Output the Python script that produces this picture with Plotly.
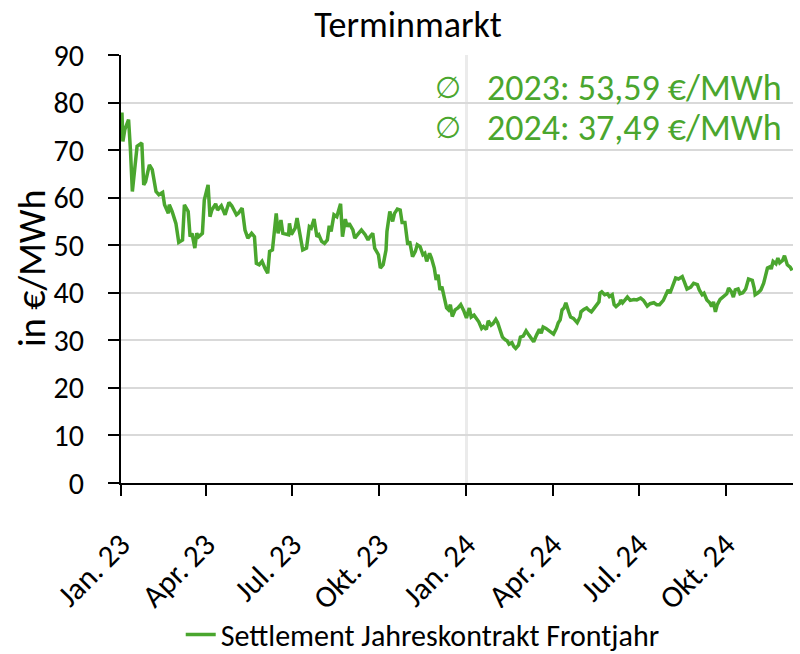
import plotly.graph_objects as go

# Settlement Jahreskontrakt Frontjahr (€/MWh)
dates = [
    "2023-01-02", "2023-01-03", "2023-01-05", "2023-01-09", "2023-01-11", "2023-01-13",
    "2023-01-18", "2023-01-23", "2023-01-25", "2023-01-27", "2023-01-31", "2023-02-03",
    "2023-02-07", "2023-02-10", "2023-02-14", "2023-02-16", "2023-02-20", "2023-02-21",
    "2023-02-24", "2023-02-28", "2023-03-03", "2023-03-07", "2023-03-09", "2023-03-13",
    "2023-03-15", "2023-03-17", "2023-03-20", "2023-03-22", "2023-03-24", "2023-03-28",
    "2023-03-30", "2023-04-03", "2023-04-05", "2023-04-07", "2023-04-11", "2023-04-13",
    "2023-04-17", "2023-04-21", "2023-04-25", "2023-04-28", "2023-05-03", "2023-05-05",
    "2023-05-09", "2023-05-12", "2023-05-15", "2023-05-19", "2023-05-22", "2023-05-24",
    "2023-05-27", "2023-05-30", "2023-06-02", "2023-06-05", "2023-06-07", "2023-06-10",
    "2023-06-14", "2023-06-16", "2023-06-19", "2023-06-21", "2023-06-27", "2023-06-28",
    "2023-06-30", "2023-07-04", "2023-07-06", "2023-07-09", "2023-07-12", "2023-07-16",
    "2023-07-19", "2023-07-21", "2023-07-24", "2023-07-27", "2023-07-29", "2023-08-01",
    "2023-08-04", "2023-08-07", "2023-08-09", "2023-08-11", "2023-08-14", "2023-08-17",
    "2023-08-21", "2023-08-23", "2023-08-26", "2023-08-28", "2023-08-30", "2023-09-03",
    "2023-09-05", "2023-09-09", "2023-09-12", "2023-09-16", "2023-09-19", "2023-09-21",
    "2023-09-24", "2023-09-26", "2023-09-30", "2023-10-02", "2023-10-05", "2023-10-08",
    "2023-10-09", "2023-10-12", "2023-10-15", "2023-10-17", "2023-10-20", "2023-10-23",
    "2023-10-25", "2023-10-28", "2023-10-31", "2023-11-02", "2023-11-05", "2023-11-08",
    "2023-11-10", "2023-11-13", "2023-11-16", "2023-11-18", "2023-11-20", "2023-11-23",
    "2023-11-25", "2023-11-28", "2023-11-30", "2023-12-02", "2023-12-04", "2023-12-06",
    "2023-12-08", "2023-12-11", "2023-12-13", "2023-12-15", "2023-12-17", "2023-12-20",
    "2023-12-23", "2023-12-26", "2023-12-29", "2024-01-01", "2024-01-04", "2024-01-06",
    "2024-01-09", "2024-01-12", "2024-01-14", "2024-01-17", "2024-01-19", "2024-01-22",
    "2024-01-24", "2024-01-27", "2024-01-29", "2024-02-01", "2024-02-03", "2024-02-05",
    "2024-02-08", "2024-02-11", "2024-02-13", "2024-02-15", "2024-02-18", "2024-02-20",
    "2024-02-22", "2024-02-25", "2024-02-27", "2024-03-01", "2024-03-04", "2024-03-07",
    "2024-03-10", "2024-03-12", "2024-03-15", "2024-03-18", "2024-03-20", "2024-03-22",
    "2024-03-25", "2024-03-27", "2024-03-30", "2024-04-02", "2024-04-05", "2024-04-07",
    "2024-04-09", "2024-04-11", "2024-04-13", "2024-04-15", "2024-04-18", "2024-04-20",
    "2024-04-23", "2024-04-25", "2024-04-27", "2024-04-30", "2024-05-01", "2024-05-04",
    "2024-05-07", "2024-05-09", "2024-05-12", "2024-05-14", "2024-05-17", "2024-05-20",
    "2024-05-21", "2024-05-23", "2024-05-26", "2024-05-29", "2024-05-31", "2024-06-03",
    "2024-06-05", "2024-06-07", "2024-06-11", "2024-06-12", "2024-06-14", "2024-06-17",
    "2024-06-19", "2024-06-22", "2024-06-26", "2024-06-29", "2024-07-03", "2024-07-06",
    "2024-07-10", "2024-07-13", "2024-07-17", "2024-07-20", "2024-07-23", "2024-07-27",
    "2024-07-29", "2024-08-01", "2024-08-03", "2024-08-06", "2024-08-09", "2024-08-12",
    "2024-08-16", "2024-08-18", "2024-08-21", "2024-08-25", "2024-08-28", "2024-09-01",
    "2024-09-03", "2024-09-06", "2024-09-08", "2024-09-11", "2024-09-14", "2024-09-16",
    "2024-09-18", "2024-09-20", "2024-09-22", "2024-09-25", "2024-09-29", "2024-10-02",
    "2024-10-04", "2024-10-07", "2024-10-09", "2024-10-11", "2024-10-14", "2024-10-16",
    "2024-10-19", "2024-10-22", "2024-10-25", "2024-10-29", "2024-10-31", "2024-11-01",
    "2024-11-04", "2024-11-07", "2024-11-10", "2024-11-12", "2024-11-14", "2024-11-17",
    "2024-11-18", "2024-11-20", "2024-11-23", "2024-11-25", "2024-11-27", "2024-11-30",
    "2024-12-02", "2024-12-05", "2024-12-08", "2024-12-10",
]
prices = [
    77.9, 71.8, 74.3, 76.4, 70.0, 61.3,
    70.8, 71.5, 62.7, 63.4, 66.9, 65.9,
    61.3, 60.6, 61.1, 58.5, 56.7, 58.5,
    57.1, 54.6, 50.6, 51.1, 58.5, 57.1,
    51.8, 52.5, 49.4, 52.5, 51.8, 52.5,
    59.5, 62.7, 56.0, 57.4, 58.7, 57.4,
    58.3, 56.4, 59.0, 58.3, 56.4, 56.7,
    57.8, 53.2, 51.5, 52.5, 51.8, 46.2,
    45.9, 46.6, 45.2, 44.1, 48.7, 49.0,
    56.7, 52.5, 55.3, 52.5, 52.2, 54.6,
    52.2, 53.6, 55.7, 52.5, 49.0, 49.4,
    53.9, 53.6, 55.5, 51.8, 52.2, 50.8,
    50.4, 51.1, 54.1, 52.9, 56.4, 56.0,
    58.7, 51.8, 55.5, 53.9, 54.6, 53.2,
    51.5, 52.5, 53.2, 52.2, 51.1, 51.8,
    52.5, 49.4, 48.0, 45.2, 45.9, 49.0,
    52.9, 57.1, 55.0, 56.7, 57.6, 57.4,
    54.8, 54.8, 50.1, 50.8, 47.6, 48.7,
    50.1, 49.7, 48.0, 48.3, 46.6, 48.3,
    47.3, 45.2, 42.7, 43.8, 40.6, 41.3,
    39.2, 36.8, 36.4, 37.5, 35.0, 36.4,
    36.8, 37.5, 36.3, 34.7, 36.8, 34.9,
    35.3, 34.4, 33.9, 32.5, 32.9, 32.3,
    34.1, 33.2, 33.5, 34.4, 33.7, 32.5,
    30.7, 30.1, 29.9, 29.2, 29.5, 28.7,
    28.3, 29.0, 30.7, 30.9, 32.0, 31.1,
    30.4, 29.7, 31.1, 32.3, 31.5, 32.8,
    32.5, 32.2, 31.8, 31.3, 32.5, 33.7,
    34.3, 36.4, 36.8, 37.9, 36.0, 34.9,
    34.6, 34.1, 33.7, 34.9, 36.0, 36.5,
    36.8, 36.4, 36.0, 36.5, 37.2, 38.1,
    39.9, 40.2, 39.6, 39.8, 39.2, 39.6,
    37.5, 37.1, 37.8, 38.5, 37.9, 38.6,
    39.1, 38.4, 38.6, 38.5, 38.9, 38.4,
    37.2, 37.7, 37.9, 37.5, 37.5, 38.4,
    39.2, 40.6, 39.9, 41.7, 43.1, 42.9,
    43.4, 42.4, 40.8, 41.2, 42.0, 41.7,
    40.6, 39.6, 39.9, 38.5, 37.9, 37.1,
    38.1, 36.0, 37.5, 38.6, 39.3, 39.8,
    41.0, 40.2, 39.1, 40.6, 40.8, 39.8,
    40.0, 40.8, 42.9, 42.6, 41.0, 39.6,
    40.0, 40.6, 42.0, 43.3, 45.2, 45.5,
    45.0, 46.6, 46.1, 47.3, 46.3, 46.8,
    47.8, 45.9, 45.4, 44.7,
]

tick_dates = ["2023-01-01", "2023-04-01", "2023-07-01", "2023-10-01",
              "2024-01-01", "2024-04-01", "2024-07-01", "2024-10-01"]
tick_labels = ["Jan. 23", "Apr. 23", "Jul. 23", "Okt. 23",
               "Jan. 24", "Apr. 24", "Jul. 24", "Okt. 24"]
avg_labels = ["2023: 53,59 €/MWh", "2024: 37,49 €/MWh"]

green = "#4aa62e"
font = "Carlito, Lato, sans-serif"

fig = go.Figure(go.Scatter(
    x=dates, y=prices, mode="lines",
    line=dict(color=green, width=3.5),
    name="Settlement Jahreskontrakt Frontjahr",
))

# year separator
fig.add_vline(x="2024-01-01", line=dict(color="#ebebeb", width=3), layer="below")

for i, txt in enumerate(avg_labels):
    yy = 0.923 - i * 0.093
    fig.add_annotation(x=0.487, y=yy, xref="paper", yref="paper", text="∅",
                       showarrow=False, font=dict(size=30, color=green, family="DejaVu Sans ExtraLight, DejaVu Sans"),
                       xanchor="center", yanchor="middle")
    fig.add_annotation(x=0.987, y=yy, xref="paper", yref="paper", text=txt,
                       showarrow=False, font=dict(size=36, color=green),
                       xanchor="right", yanchor="middle")

# y axis title
fig.add_annotation(x=-0.1324, y=0.5, xref="paper", yref="paper", text="in €/MWh",
                   textangle=-90, showarrow=False, font=dict(size=38),
                   xanchor="center", yanchor="middle")

fig.update_layout(
    width=800, height=654,
    margin=dict(l=121, r=7, t=55, b=171),
    paper_bgcolor="white", plot_bgcolor="white",
    font=dict(family=font, color="black"),
    title=dict(text="Terminmarkt", x=0.51, xanchor="center", y=0.962, yanchor="middle",
               font=dict(size=36)),
    showlegend=True,
    legend=dict(orientation="h", x=0.449, xanchor="center",
                yref="container", y=0.03, yanchor="middle",
                font=dict(size=30), borderwidth=0),
    xaxis=dict(
        range=["2023-01-01", "2024-12-11"],
        tickvals=tick_dates, ticktext=tick_labels, tickangle=-45,
        tickfont=dict(size=31), ticklabelstandoff=18,
        showgrid=False, showline=True, linecolor="black", linewidth=2,
        ticks="outside", ticklen=11, tickwidth=2, tickcolor="black",
        zeroline=False, automargin=False,
    ),
    yaxis=dict(
        range=[0, 90], dtick=10,
        tickfont=dict(size=30), ticklabelstandoff=18,
        showgrid=True, gridcolor="#d9d9d9", gridwidth=2,
        showline=True, linecolor="black", linewidth=2,
        ticks="outside", ticklen=11, tickwidth=2, tickcolor="black",
        zeroline=False, automargin=False,
    ),
)

fig.write_html("out.html", config={"displayModeBar": False},
               post_script="document.body.style.margin='0';")
